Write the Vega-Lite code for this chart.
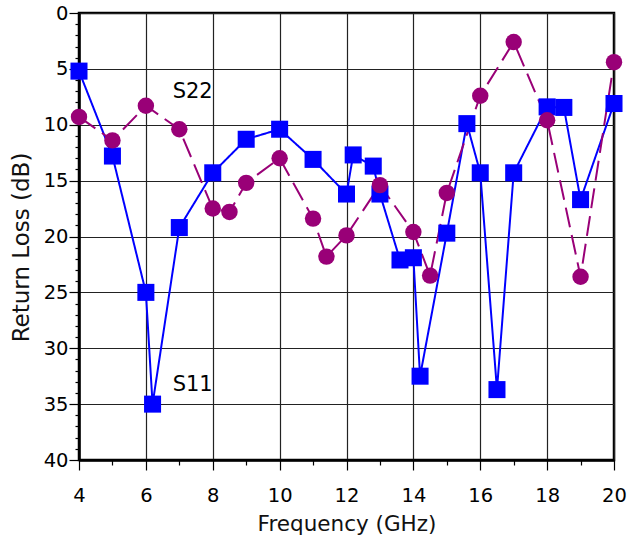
{
  "$schema": "https://vega.github.io/schema/vega-lite/v6.json",
  "autosize": {"type": "none"},
  "width": 535,
  "height": 447,
  "padding": {"left": 79, "top": 13, "right": 20, "bottom": 79},
  "background": "white",
  "config": {
    "font": "DejaVu Sans",
    "view": {"stroke": "black", "strokeWidth": 2.5}
  },
  "datasets": {
    "s": [
      {"series": "S11", "freq": 4.0, "rl": 5.2},
      {"series": "S11", "freq": 5.0, "rl": 12.8},
      {"series": "S11", "freq": 6.0, "rl": 25.0},
      {"series": "S11", "freq": 6.2, "rl": 35.0},
      {"series": "S11", "freq": 7.0, "rl": 19.2},
      {"series": "S11", "freq": 8.0, "rl": 14.3},
      {"series": "S11", "freq": 9.0, "rl": 11.3},
      {"series": "S11", "freq": 10.0, "rl": 10.4},
      {"series": "S11", "freq": 11.0, "rl": 13.1},
      {"series": "S11", "freq": 12.0, "rl": 16.2},
      {"series": "S11", "freq": 12.2, "rl": 12.7},
      {"series": "S11", "freq": 12.8, "rl": 13.7},
      {"series": "S11", "freq": 13.0, "rl": 16.2},
      {"series": "S11", "freq": 13.6, "rl": 22.1},
      {"series": "S11", "freq": 14.0, "rl": 21.9},
      {"series": "S11", "freq": 14.2, "rl": 32.5},
      {"series": "S11", "freq": 15.0, "rl": 19.7},
      {"series": "S11", "freq": 15.6, "rl": 9.9},
      {"series": "S11", "freq": 16.0, "rl": 14.3},
      {"series": "S11", "freq": 16.5, "rl": 33.7},
      {"series": "S11", "freq": 17.0, "rl": 14.3},
      {"series": "S11", "freq": 18.0, "rl": 8.4},
      {"series": "S11", "freq": 18.5, "rl": 8.45},
      {"series": "S11", "freq": 19.0, "rl": 16.7},
      {"series": "S11", "freq": 20.0, "rl": 8.1},
      {"series": "S22", "freq": 4.0, "rl": 9.3},
      {"series": "S22", "freq": 5.0, "rl": 11.4},
      {"series": "S22", "freq": 6.0, "rl": 8.3},
      {"series": "S22", "freq": 7.0, "rl": 10.4},
      {"series": "S22", "freq": 8.0, "rl": 17.5},
      {"series": "S22", "freq": 8.5, "rl": 17.8},
      {"series": "S22", "freq": 9.0, "rl": 15.2},
      {"series": "S22", "freq": 10.0, "rl": 13.0},
      {"series": "S22", "freq": 11.0, "rl": 18.4},
      {"series": "S22", "freq": 11.4, "rl": 21.8},
      {"series": "S22", "freq": 12.0, "rl": 19.9},
      {"series": "S22", "freq": 13.0, "rl": 15.4},
      {"series": "S22", "freq": 14.0, "rl": 19.6},
      {"series": "S22", "freq": 14.5, "rl": 23.5},
      {"series": "S22", "freq": 15.0, "rl": 16.1},
      {"series": "S22", "freq": 16.0, "rl": 7.4},
      {"series": "S22", "freq": 17.0, "rl": 2.6},
      {"series": "S22", "freq": 18.0, "rl": 9.6},
      {"series": "S22", "freq": 19.0, "rl": 23.6},
      {"series": "S22", "freq": 20.0, "rl": 4.4}
    ],
    "labels": [
      {"label": "S22", "freq": 7.4, "rl": 7.1},
      {"label": "S11", "freq": 7.4, "rl": 33.3}
    ]
  },
  "encoding": {
    "x": {
      "field": "freq",
      "type": "quantitative",
      "scale": {"domain": [4, 20], "nice": false, "zero": false},
      "axis": {
        "title": "Frequency (GHz)",
        "titleFontSize": 21.5,
        "titleFontWeight": "normal",
        "titleColor": "#111",
        "titlePadding": 9,
        "values": [4,4.5,5,5.5,6,6.5,7,7.5,8,8.5,9,9.5,10,10.5,11,11.5,12,12.5,13,13.5,14,14.5,15,15.5,16,16.5,17,17.5,18,18.5,19,19.5,20],
        "format": "d",
        "labelExpr": "datum.value % 2 === 0 ? format(datum.value, 'd') : ''",
        "labelFontSize": 19.5,
        "labelColor": "#000",
        "labelPadding": 16,
        "labelFlush": false,
        "tickSize": {"condition": {"test": "datum.value % 2 === 0", "value": 10}, "value": 5},
        "tickColor": "#000",
        "tickWidth": 1.2,
        "domainColor": "#000",
        "domainWidth": 2.5,
        "grid": true,
        "gridColor": "#222",
        "gridWidth": 1.2,
        "gridOpacity": {"condition": {"test": "datum.value % 2 === 0", "value": 1}, "value": 0}
      }
    },
    "y": {
      "field": "rl",
      "type": "quantitative",
      "scale": {"domain": [0, 40], "reverse": true, "nice": false},
      "axis": {
        "title": "Return Loss (dB)",
        "titleFontSize": 23,
        "titleFontWeight": "normal",
        "titleColor": "#111",
        "titlePadding": 10,
        "titleY": 234,
        "values": [0,1,2,3,4,5,6,7,8,9,10,11,12,13,14,15,16,17,18,19,20,21,22,23,24,25,26,27,28,29,30,31,32,33,34,35,36,37,38,39,40],
        "format": "d",
        "labelExpr": "datum.value % 5 === 0 ? format(datum.value, 'd') : ''",
        "labelFontSize": 19.5,
        "labelColor": "#000",
        "labelPadding": 1,
        "labelFlush": false,
        "tickSize": {"condition": {"test": "datum.value % 5 === 0", "value": 10}, "value": 4},
        "tickColor": "#000",
        "tickWidth": 1.2,
        "domainColor": "#000",
        "domainWidth": 2.5,
        "grid": true,
        "gridColor": "#222",
        "gridWidth": 1.2,
        "gridOpacity": {"condition": {"test": "datum.value % 5 === 0", "value": 1}, "value": 0}
      }
    }
  },
  "layer": [
    {
      "data": {"name": "s"},
      "mark": {"type": "line", "strokeWidth": 2},
      "encoding": {
        "color": {"field": "series", "type": "nominal", "scale": {"domain": ["S11", "S22"], "range": ["#0000ff", "#990077"]}, "legend": null},
        "strokeDash": {"field": "series", "type": "nominal", "scale": {"domain": ["S11", "S22"], "range": [[1, 0], [20, 8]]}, "legend": null}
      }
    },
    {
      "data": {"name": "s"},
      "mark": {"type": "point", "filled": true, "opacity": 1},
      "encoding": {
        "color": {"field": "series", "type": "nominal", "scale": {"domain": ["S11", "S22"], "range": ["#0000ff", "#990077"]}, "legend": null},
        "shape": {"field": "series", "type": "nominal", "scale": {"domain": ["S11", "S22"], "range": ["square", "circle"]}, "legend": null},
        "size": {"field": "series", "type": "nominal", "scale": {"domain": ["S11", "S22"], "range": [290, 270]}, "legend": null}
      }
    },
    {
      "data": {"name": "labels"},
      "mark": {"type": "text", "fontSize": 21, "color": "#000", "align": "center", "baseline": "middle"},
      "encoding": {"text": {"field": "label"}}
    }
  ]
}
